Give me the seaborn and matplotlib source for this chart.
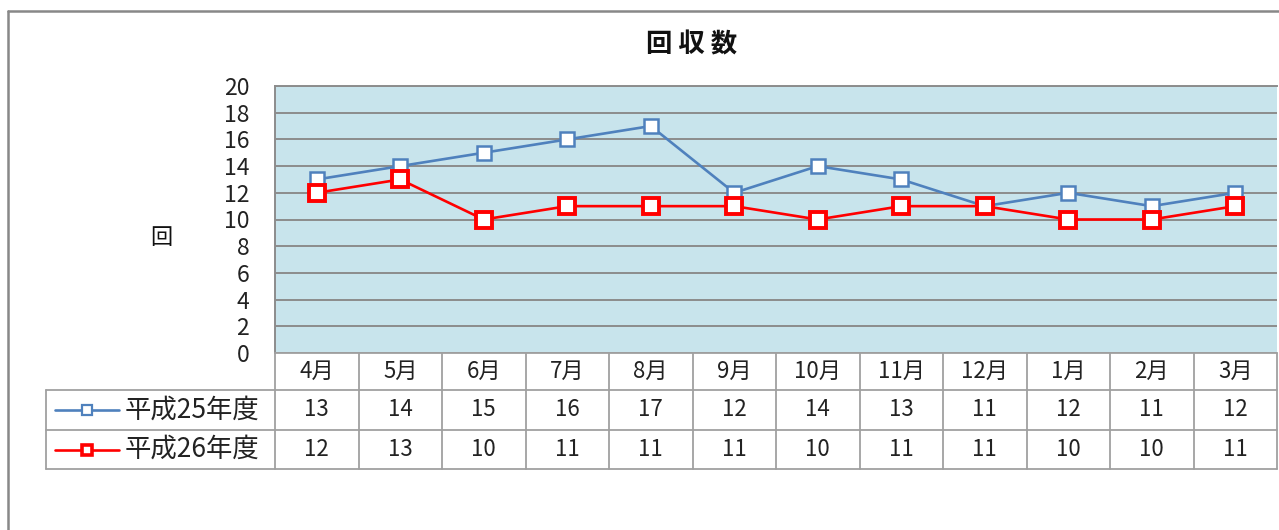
import numpy as np
import pandas as pd
import matplotlib
matplotlib.use("Agg")
import matplotlib.pyplot as plt
import seaborn as sns
from matplotlib.lines import Line2D

months = ["4月", "5月", "6月", "7月", "8月", "9月", "10月", "11月", "12月", "1月", "2月", "3月"]
series_names = ["平成25年度", "平成26年度"]
h25 = [13, 14, 15, 16, 17, 12, 14, 13, 11, 12, 11, 12]
h26 = [12, 13, 10, 11, 11, 11, 10, 11, 11, 10, 10, 11]
yticks = [0, 2, 4, 6, 8, 10, 12, 14, 16, 18, 20]
title = "回 収 数"
ylabel = "回"

sns.set_theme(style="white")
plt.rcParams["font.family"] = ["Noto Sans CJK JP", "DejaVu Sans"]

W, H = 1279, 530
fig = plt.figure(figsize=(W / 100, H / 100), dpi=100)

def fx(px):
    return px / W

def fy(py):
    return 1 - py / H

x0, x1 = 275, 1277
y_top, y_bot = 86, 353
ax = fig.add_axes([fx(x0), fy(y_bot), fx(x1) - fx(x0), fy(y_top) - fy(y_bot)])
ax.set_facecolor("#C8E4EC")

df = pd.DataFrame({
    "idx": list(range(len(months))) * 2,
    "value": h25 + h26,
    "series": [series_names[0]] * len(months) + [series_names[1]] * len(months),
})

blue = "#4F81BD"
red = "#FF0000"
sns.lineplot(data=df[df.series == series_names[0]], x="idx", y="value", ax=ax,
             color=blue, linewidth=1.9, marker="s", markersize=10,
             markerfacecolor="white", markeredgecolor=blue, markeredgewidth=1.8,
             zorder=4, legend=False)
sns.lineplot(data=df[df.series == series_names[1]], x="idx", y="value", ax=ax,
             color=red, linewidth=1.9, marker="s", markersize=12,
             markerfacecolor="white", markeredgecolor=red, markeredgewidth=2.8,
             zorder=5, legend=False)

ax.set_xlim(-0.5, len(months) - 0.5)
ax.set_ylim(0, 20)
ax.set_yticks(yticks)
ax.set_yticklabels([str(t) for t in yticks], fontsize=16.5, color="#222222")
ax.set_xticks([])
ax.set_xlabel("")
ax.set_ylabel("")
ax.tick_params(axis="y", length=0, pad=18.5)
ax.grid(axis="y", color="#8C8C8C", linewidth=1.4)
ax.set_axisbelow(True)
for s in ["left", "top"]:
    ax.spines[s].set_color("#8C8C8C")
    ax.spines[s].set_linewidth(1.4)
ax.spines["right"].set_visible(False)
ax.spines["bottom"].set_visible(False)

fig.text(fx(692), fy(45), title, fontsize=19, fontweight="bold", ha="center", va="center", color="#111111")
fig.text(fx(161), fy(237), ylabel, fontsize=16, ha="center", va="center", color="#111111")

# outer frame
fig.add_artist(Line2D([fx(8), fx(8)], [fy(11), fy(H + 10)], color="#888888", linewidth=1.8))
fig.add_artist(Line2D([fx(8), fx(W + 10)], [fy(11), fy(11)], color="#888888", linewidth=1.8))

# data table
gc = "#A0A0A0"
lw = 1.3
row_y = [353, 390, 430, 469]
col_w = (x1 - x0) / len(months)
tab_left = 46
fig.add_artist(Line2D([fx(x0), fx(x1)], [fy(row_y[0])] * 2, color=gc, linewidth=lw))
for ry in row_y[1:]:
    fig.add_artist(Line2D([fx(tab_left), fx(x1)], [fy(ry)] * 2, color=gc, linewidth=lw))
for i in range(len(months) + 1):
    cx = x0 + i * col_w
    fig.add_artist(Line2D([fx(cx)] * 2, [fy(row_y[0]), fy(row_y[3])], color=gc, linewidth=lw))
fig.add_artist(Line2D([fx(tab_left)] * 2, [fy(row_y[1]), fy(row_y[3])], color=gc, linewidth=lw))

tfs = 16
for i, m in enumerate(months):
    cx = x0 + (i + 0.5) * col_w
    fig.text(fx(cx), fy((row_y[0] + row_y[1]) / 2), m, fontsize=tfs, ha="center", va="center", color="#222222")
    fig.text(fx(cx), fy((row_y[1] + row_y[2]) / 2), str(h25[i]), fontsize=tfs, ha="center", va="center", color="#222222")
    fig.text(fx(cx), fy((row_y[2] + row_y[3]) / 2), str(h26[i]), fontsize=tfs, ha="center", va="center", color="#222222")

styles = [(blue, 7.5, 1.6), (red, 7.8, 2.6)]
for r, (name, (c, ms, mew)) in enumerate(zip(series_names, styles)):
    cy = (row_y[r + 1] + row_y[r + 2]) / 2
    fig.add_artist(Line2D([fx(55), fx(119)], [fy(cy)] * 2, color=c, linewidth=1.9))
    fig.add_artist(Line2D([fx(87)], [fy(cy)], marker="s", markersize=ms, markerfacecolor="white",
                          markeredgecolor=c, markeredgewidth=mew, linestyle="none"))
    fig.text(fx(125), fy(cy), name, fontsize=19, ha="left", va="center", color="#222222")

fig.savefig("out.png", dpi=100)
